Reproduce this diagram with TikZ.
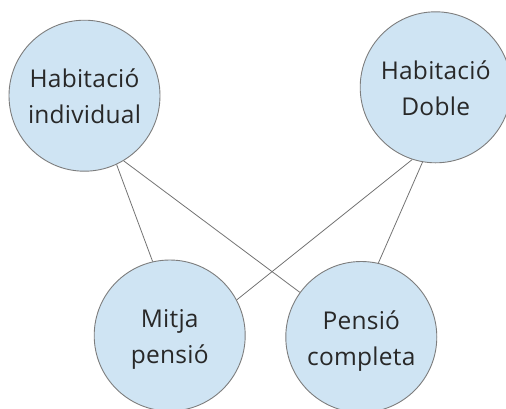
\documentclass[tikz,border=0pt]{standalone}
\usepackage{fontspec}
\setmainfont{Open Sans}[LetterSpace=1]
\definecolor{bubblefill}{RGB}{207,228,243}
\definecolor{bubbleline}{RGB}{125,125,125}
\definecolor{connline}{RGB}{115,115,115}
\definecolor{txt}{RGB}{40,40,40}
\begin{document}
\begin{tikzpicture}[x=1pt,y=-1pt,
  bubble/.style={circle,draw=bubbleline,fill=bubblefill,line width=0.9pt,minimum size=151pt,inner sep=0pt},
  lbl/.style={anchor=base,inner sep=0pt,text=txt,font=\fontsize{24.5}{29}\selectfont},
  conn/.style={draw=connline,line width=0.8pt}]
\useasboundingbox (0,0) rectangle (506,408);
\node[bubble] (c1) at (84.5,95.7) {};
\node[bubble] (c2) at (435.7,87.3) {};
\node[bubble] (c3) at (169.7,335.5) {};
\node[bubble] (c4) at (361.3,337) {};
\draw[conn] (c1.-65.8) -- (c3.103.8);
\draw[conn] (c1.-59.5) -- (c4.144.6);
\draw[conn] (c2.-108) -- (c3.28.4);
\draw[conn] (c2.-100.9) -- (c4.77.9);
\node[lbl] (t1a) at ([yshift=8pt]c1.center) {Habitació};
\node[lbl] (t1b) at ([yshift=-28pt]c1.center) {individual};
\node[lbl] (t2a) at ([yshift=8pt]c2.center) {Habitació};
\node[lbl] (t2b) at ([yshift=-28pt]c2.center) {Doble};
\node[lbl] (t3a) at ([yshift=8pt]c3.center) {Mitja};
\node[lbl] (t3b) at ([yshift=-28pt]c3.center) {pensió};
\node[lbl] (t4a) at ([yshift=8pt]c4.center) {Pensió};
\node[lbl] (t4b) at ([yshift=-28pt]c4.center) {completa};
\end{tikzpicture}
\end{document}
